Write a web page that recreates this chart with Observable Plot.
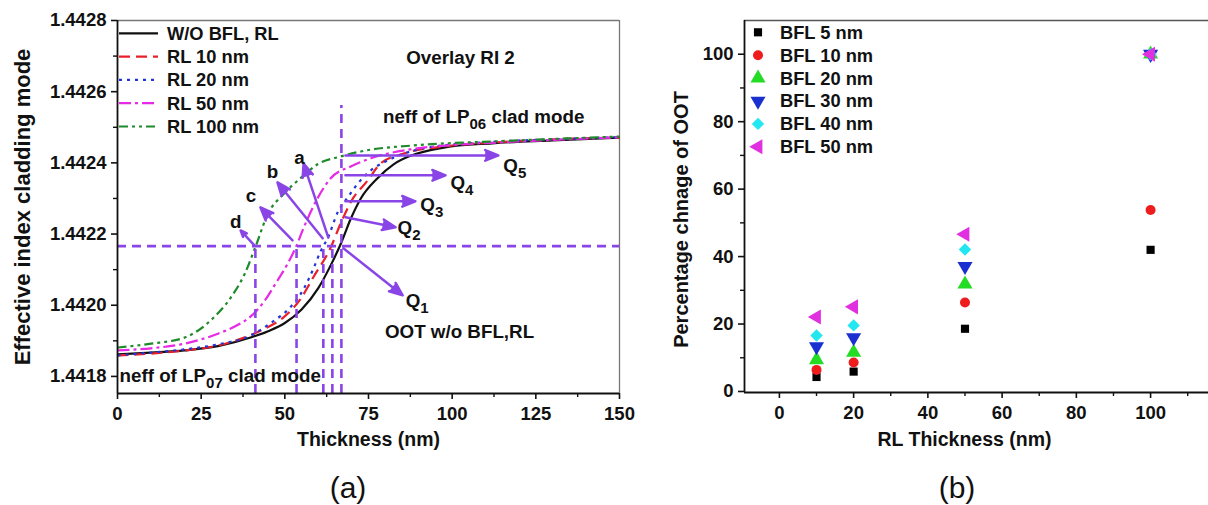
<!DOCTYPE html>
<html><head><meta charset="utf-8">
<script src="https://cdn.jsdelivr.net/npm/d3@7"></script>
<script src="https://cdn.jsdelivr.net/npm/@observablehq/plot@0.6"></script>
<style>
html,body{margin:0;padding:0;background:#fff}
#wrap{position:relative;width:1208px;height:505px;overflow:hidden;font-family:"Liberation Sans",Arial,Helvetica,sans-serif;background:#fff}
#pa{position:absolute;left:0;top:0;width:630px}
#pb{position:absolute;left:660px;top:0;width:548px}
.cap{position:absolute;top:470px;width:100px;text-align:center;font-size:30px;line-height:36px;color:#111}
</style></head>
<body>
<div id="wrap">
  <div id="pa"></div>
  <div id="pb"></div>
  <div class="cap" style="left:298px">(a)</div>
  <div class="cap" style="left:907px">(b)</div>
</div>
<script>
const FONT = '"Liberation Sans", Arial, Helvetica, sans-serif';
const PURPLE = "#8a45e6";
const TICK_FONT = 18.5, NOTE_FONT = 18.8, LEG_FONT = 18.3;

// ---------------- Panel (a) data ----------------
const seriesNames = ["W/O BFL, RL", "RL 10 nm", "RL 20 nm", "RL 50 nm", "RL 100 nm"];
const thicknessW = [0,10,20,30,40,45,50,55,60,63.7,66.7,69.7,72.7,77.7,82.5,87.6,97.5,112,130,150];
const neffW = [1.441862,1.441867,1.441873,1.441885,1.441910,1.441927,1.441950,1.441988,1.442048,1.442112,1.442172,1.442243,1.442300,1.442357,1.442396,1.442420,1.442443,1.442455,1.442463,1.442471];
const thickness10 = [0,10,20,30,42.8,49.6,54.5,58.6,63.7,66.7,69.7,74.8,78.6,85.5,97.5,112,130,150];
const neff10 = [1.441859,1.441864,1.441873,1.441887,1.441929,1.441966,1.442015,1.442080,1.442162,1.442230,1.442290,1.442351,1.442398,1.442426,1.442446,1.442457,1.442466,1.442471];
const thickness20 = [0,10,20,30,40,45.8,51.7,54.7,58.6,60.7,62.8,65.8,68.8,71.8,75.7,79.5,85,92.7,110,130,150];
const neff20 = [1.441859,1.441867,1.441876,1.441890,1.441916,1.441950,1.441995,1.442031,1.442104,1.442152,1.442188,1.442261,1.442303,1.442342,1.442379,1.442401,1.442424,1.442443,1.442458,1.442466,1.442472];
const thickness50 = [0,10,20,30,36,40,44,47.5,50.8,53.2,55.6,59.8,63.7,69.7,75.7,87.6,100,120,150];
const neff50 = [1.441873,1.441879,1.441892,1.441920,1.441945,1.441970,1.442013,1.442065,1.442116,1.442161,1.442217,1.442301,1.442357,1.442390,1.442413,1.442438,1.442450,1.442460,1.442472];
const thickness100 = [0,10,20,27.8,33.8,38,41.3,44.9,49.6,54.7,59.8,66.7,72.7,90,112,150];
const neff100 = [1.441881,1.441892,1.441909,1.441957,1.442021,1.442088,1.442166,1.442256,1.442312,1.442357,1.442396,1.442418,1.442432,1.442450,1.442460,1.442474];

const xDomainA = [0, 150];
const yDomainA = [1.441752, 1.4428];
const xTicksA = [0,25,50,75,100,125,150];
const xMinorA = [12.5,37.5,62.5,87.5,112.5,137.5];
const yTicksA = [1.4418,1.4420,1.4422,1.4424,1.4426,1.4428];
const yMinorA = [1.4419,1.4421,1.4423,1.4425,1.4427];

// OOT markers
const ootLevel = 1.442166;
const ootX = [41.2, 53.5, 61.5, 64.2, 66.9];
const ootTop = [1.442166, 1.442166, 1.442166, 1.442166, 1.442561];

// arrows [x1, y1, x2, y2]
const arrowA = [
  [63.0,1.442190,55.6,1.442398],
  [61.3,1.442188,47.8,1.442345],
  [52.3,1.442182,42.7,1.442275],
  [40.9,1.442168,36.8,1.442210],
  [67.5,1.442160,85.2,1.442028],
  [68.1,1.442247,83.1,1.442219],
  [68.1,1.442292,89.0,1.442292],
  [68.1,1.442365,98.0,1.442365],
  [68.1,1.442421,113.8,1.442421]
];
// labels
const notesMiddle = [
  ["Overlay RI 2", 102.5, 1.442696],
  ["neff of LP_{06} clad mode", 109.4, 1.442530],
  ["OOT w/o BFL,RL", 102.2, 1.441926],
  ["a", 54.4, 1.442415],
  ["b", 46.3, 1.442374],
  ["c", 39.9, 1.442308],
  ["d", 35.3, 1.442234]
];
const notesStart = [
  ["neff of LP_{07} clad mode", 0.6, 1.441800],
  ["Q_{1}", 86.1, 1.442011],
  ["Q_{2}", 83.7, 1.442216],
  ["Q_{3}", 90.5, 1.442283],
  ["Q_{4}", 99.5, 1.442344],
  ["Q_{5}", 115.3, 1.442390]
];

// styles
const lineColors = ["#111111", "#e8202a", "#2136d6", "#e62ae6", "#1f8a2a"];
const lineDashes = [null, "11,6", "3,5", "12,4,3,4", "9,4,3,4,3,4"];

// ---------------- Panel (b) data ----------------
const rlThickness = [10, 20, 50, 100];
const bflNames = ["BFL 5 nm","BFL 10 nm","BFL 20 nm","BFL 30 nm","BFL 40 nm","BFL 50 nm"];
const bfl5  = [4.3, 5.9, 18.6, 42.0];
const bfl10 = [6.4, 8.6, 26.4, 53.8];
const bfl20 = [9.4, 11.6, 31.8, 100];
const bfl30 = [13.3, 16.0, 37.1, 100];
const bfl40 = [16.6, 19.6, 42.1, 100];
const bfl50 = [22.1, 25.1, 46.6, 100];
const xDomainB = [-9.4, 115.6];
const yDomainB = [-0.3, 110];
const xTicksB = [0,20,40,60,80,100];
const xMinorB = [10,30,50,70,90,110];
const yTicksB = [0,20,40,60,80,100];
const yMinorB = [10,30,50,70,90];

const symColors = ["#000000","#ee1c1c","#25dc25","#1a2fd0","#22e6f0","#e030e0"];
const symTypes = ["square","circle","triangle","triangle","diamond2","triangle"];
const symRotate = [0,0,0,180,0,-90];
const symR = [4.6,5,5.6,5.6,5.6,5.6];

// ---------------- build panel (a) ----------------
const curves = [[thicknessW,neffW],[thickness10,neff10],[thickness20,neff20],[thickness50,neff50],[thickness100,neff100]];
const curveRows = curves.map(([xs, ys]) => xs.map((x, j) => ({x, y: ys[j]})));
const ootRows = ootX.map((x, i) => ({x, bottom: yDomainA[0], top: ootTop[i]}));
const arrowRows = arrowA.map(([x1,y1,x2,y2]) => ({x1,y1,x2,y2}));
const toRow = ([label, x, y]) => ({label, x, y});
const tickText = {fontSize: TICK_FONT, fontWeight: "bold", fill: "#111"};

const plotA = Plot.plot({
  width: 630, height: 460,
  marginLeft: 117, marginRight: 11, marginTop: 20, marginBottom: 67,
  style: {fontFamily: FONT, fontSize: TICK_FONT + "px", fontWeight: "bold", color: "#111", background: "transparent", overflow: "visible"},
  x: {domain: xDomainA},
  y: {domain: yDomainA},
  marks: [
    Plot.ruleY([yDomainA[1]], {stroke: "#777", strokeWidth: 1.3}),
    Plot.ruleX([xDomainA[1]], {stroke: "#777", strokeWidth: 1.3}),
    Plot.axisX({ticks: xTicksA, tickSize: 6, tickPadding: 7, label: null, tickFormat: d3.format("d"), strokeWidth: 1.6, ...tickText}),
    Plot.axisX({ticks: xMinorA, tickSize: 4, label: null, tickFormat: () => "", strokeWidth: 1.4}),
    Plot.axisY({ticks: yTicksA, tickSize: 6, tickPadding: 5, label: null, tickFormat: d3.format(".4f"), strokeWidth: 1.6, ...tickText}),
    Plot.axisY({ticks: yMinorA, tickSize: 4, label: null, tickFormat: () => "", strokeWidth: 1.4}),
    ...curveRows.map((rows, i) => Plot.line(rows, {
      x: "x", y: "y", stroke: lineColors[i], strokeWidth: 2.2,
      strokeDasharray: lineDashes[i] || undefined, strokeLinecap: "butt",
      curve: "monotone-x"
    })),
    Plot.ruleY([ootLevel], {stroke: PURPLE, strokeWidth: 2.6, strokeDasharray: "9,6"}),
    Plot.ruleX(ootRows, {x: "x", y1: "bottom", y2: "top", stroke: PURPLE, strokeWidth: 2.6, strokeDasharray: "9,6"}),
    Plot.arrow(arrowRows, {x1: "x1", y1: "y1", x2: "x2", y2: "y2", stroke: PURPLE, fill: PURPLE, strokeWidth: 2.5, headLength: 8.5, headAngle: 44}),
    Plot.text(notesMiddle.map(toRow), {x: "x", y: "y", text: "label", textAnchor: "middle", fill: "#111", fontSize: NOTE_FONT, fontWeight: "bold"}),
    Plot.text(notesStart.map(toRow), {x: "x", y: "y", text: "label", textAnchor: "start", fill: "#111", fontSize: NOTE_FONT, fontWeight: "bold"}),
    Plot.ruleX([xDomainA[0]], {stroke: "#111", strokeWidth: 1.8}),
    Plot.ruleY([yDomainA[0]], {stroke: "#111", strokeWidth: 1.8}),
    Plot.text(["Thickness (nm)"], {frameAnchor: "bottom", dy: 52, textAnchor: "middle", text: d => d, fontSize: 19.5, fontWeight: "bold", fill: "#111"}),
    Plot.text(["Effective index cladding mode"], {frameAnchor: "left", dx: -95, rotate: -90, textAnchor: "middle", text: d => d, fontSize: 22, fontWeight: "bold", fill: "#111"})
  ]
});

// ---------------- build panel (b) ----------------
const bflSeries = [bfl5, bfl10, bfl20, bfl30, bfl40, bfl50];
const bflRows = bflSeries.map(vals => rlThickness.map((x, j) => ({x, y: vals[j]})));

const plotB = Plot.plot({
  width: 548, height: 460,
  marginLeft: 84, marginRight: 0, marginTop: 20, marginBottom: 68,
  style: {fontFamily: FONT, fontSize: TICK_FONT + "px", fontWeight: "bold", color: "#111", background: "transparent", overflow: "visible"},
  x: {domain: xDomainB},
  y: {domain: yDomainB},
  marks: [
    Plot.ruleY([yDomainB[1]], {stroke: "#555", strokeWidth: 1.5}),
    Plot.axisX({ticks: xTicksB, tickSize: 6, tickPadding: 7, label: null, tickFormat: d3.format("d"), strokeWidth: 1.6, ...tickText}),
    Plot.axisX({ticks: xMinorB, tickSize: 4, label: null, tickFormat: () => "", strokeWidth: 1.4}),
    Plot.axisY({ticks: yTicksB, tickSize: 6, tickPadding: 5, label: null, tickFormat: d3.format("d"), strokeWidth: 1.6, ...tickText}),
    Plot.axisY({ticks: yMinorB, tickSize: 4, label: null, tickFormat: () => "", strokeWidth: 1.4}),
    ...bflRows.map((rows, i) => Plot.dot(rows, {
      x: "x", y: "y", symbol: symTypes[i], r: symR[i], fill: symColors[i], rotate: symRotate[i]
    })),
    Plot.ruleX([xDomainB[0]], {stroke: "#111", strokeWidth: 1.8}),
    Plot.ruleY([yDomainB[0]], {stroke: "#111", strokeWidth: 1.8}),
    Plot.text(["RL Thickness (nm)"], {frameAnchor: "bottom", dy: 53, dx: -12, textAnchor: "middle", text: d => d, fontSize: 19.5, fontWeight: "bold", fill: "#111"}),
    Plot.text(["Percentage chnage of OOT"], {frameAnchor: "left", dx: -62.5, dy: 13, rotate: -90, textAnchor: "middle", text: d => d, fontSize: 20, fontWeight: "bold", fill: "#111"})
  ]
});

// ---------------- subscripts ----------------
function applySubscripts(svg) {
  d3.select(svg).selectAll("text").each(function() {
    const t = this.textContent;
    if (!t || !t.includes("_{")) return;
    const sel = d3.select(this);
    sel.text(null);
    const parts = t.split(/(_\{[^}]*\})/).filter(p => p);
    let shifted = false;
    for (const p of parts) {
      const m = p.match(/^_\{(.*)\}$/);
      if (m) {
        sel.append("tspan").attr("dy", 6).attr("font-size", "0.8em").text(m[1]);
        shifted = true;
      } else {
        const ts = sel.append("tspan").text(p);
        if (shifted) { ts.attr("dy", -6); shifted = false; }
      }
    }
  });
}
applySubscripts(plotA);

// ---------------- legends ----------------
{
  const g = d3.select(plotA).append("g").attr("font-size", LEG_FONT).attr("font-weight", "bold").attr("fill", "#111").attr("text-anchor", "start");
  seriesNames.forEach((name, i) => {
    const y = 33.3 + i * 23.3;
    g.append("line").attr("x1", 119).attr("x2", 158).attr("y1", y).attr("y2", y)
      .attr("stroke", lineColors[i]).attr("stroke-width", 2.2)
      .attr("stroke-dasharray", lineDashes[i]);
    g.append("text").attr("x", 167).attr("y", y).attr("dy", "0.35em").attr("text-anchor", "start").text(name);
  });
}
{
  const symMap = {square: d3.symbolSquare, circle: d3.symbolCircle, triangle: d3.symbolTriangle, diamond2: d3.symbolDiamond2};
  const g = d3.select(plotB).append("g").attr("font-size", LEG_FONT).attr("font-weight", "bold").attr("fill", "#111").attr("text-anchor", "start");
  bflNames.forEach((name, i) => {
    const y = 32.3 + i * 22.9;
    g.append("path")
      .attr("d", d3.symbol(symMap[symTypes[i]], Math.PI * symR[i] * symR[i])())
      .attr("transform", `translate(98,${y}) rotate(${symRotate[i]})`)
      .attr("fill", symColors[i]);
    g.append("text").attr("x", 120).attr("y", y).attr("dy", "0.35em").attr("text-anchor", "start").text(name);
  });
}

document.getElementById("pa").appendChild(plotA);
document.getElementById("pb").appendChild(plotB);
</script>
</body></html>
